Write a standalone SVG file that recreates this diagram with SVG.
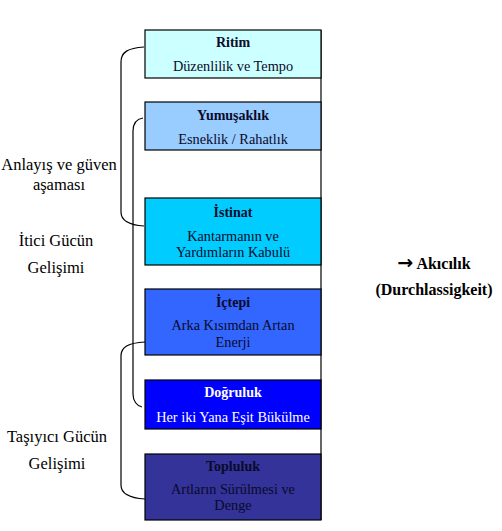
<svg xmlns="http://www.w3.org/2000/svg" width="502" height="531" viewBox="0 0 502 531">
<style>
  .t { font-family: "Liberation Serif", "Times New Roman", serif; font-size: 14px; font-weight: bold; text-anchor: middle; fill: #0a0a2a; }
  .s { font-family: "Liberation Serif", "Times New Roman", serif; font-size: 14.3px; text-anchor: middle; fill: #0a0a2a; }
  .w { fill: #ffffff; }
  .lab { font-family: "Liberation Serif", "Times New Roman", serif; font-size: 16.5px; text-anchor: middle; fill: #000; }
  .res { font-family: "Liberation Serif", "Times New Roman", serif; font-size: 16px; font-weight: bold; text-anchor: middle; fill: #000; }
  .arr { font-family: "DejaVu Sans", sans-serif; font-weight: bold; font-size: 19px; }
  .box { stroke: #000; stroke-width: 1.2; }
  .br { fill: none; stroke: #000; stroke-width: 1.2; }
</style>
<rect width="502" height="531" fill="#ffffff"/>
<line x1="321" y1="30" x2="321" y2="520" stroke="#000" stroke-width="1.2"/>
<g id="ritim">
  <rect class="box" x="145" y="30" width="176" height="48" fill="#ccffff"/>
  <text class="t" x="233" y="47">Ritim</text>
  <text class="s" x="233" y="71">Düzenlilik ve Tempo</text>
</g>
<g id="yumusaklik">
  <rect class="box" x="145" y="102" width="176" height="48" fill="#99ccff"/>
  <text class="t" x="233" y="120">Yumuşaklık</text>
  <text class="s" x="233" y="144">Esneklik / Rahatlık</text>
</g>
<g id="istinat">
  <rect class="box" x="145" y="198" width="176" height="67" fill="#00ccff"/>
  <text class="t" x="233" y="217">İstinat</text>
  <text class="s" x="233" y="241">Kantarmanın ve</text>
  <text class="s" x="233" y="257">Yardımların Kabulü</text>
</g>
<g id="ictepi">
  <rect class="box" x="145" y="289" width="176" height="66" fill="#3366ff"/>
  <text class="t" x="233" y="307">İçtepi</text>
  <text class="s" x="233" y="330">Arka Kısımdan Artan</text>
  <text class="s" x="233" y="347">Enerji</text>
</g>
<g id="dogruluk">
  <rect class="box" x="145" y="380" width="176" height="49" fill="#0000ff"/>
  <text class="t w" x="233" y="397">Doğruluk</text>
  <text class="s w" x="233" y="422">Her iki Yana Eşit Bükülme</text>
</g>
<g id="topluluk">
  <rect class="box" x="145" y="454" width="176" height="66" fill="#333399"/>
  <text class="t" x="233" y="471">Topluluk</text>
  <text class="s" x="233" y="494">Artların Sürülmesi ve</text>
  <text class="s" x="233" y="510">Denge</text>
</g>
<g id="connectors">
  <path class="br" d="M144,47 C128,48 121,52 121,62 L121,212 C121,220 128,225 144,226"/>
  <path class="br" d="M143,118 C137,119 133,123 133,131 L133,394 C133,401 137,406 142,407"/>
  <path class="br" d="M145,342 C128,343 121,347 121,356 L121,485 C121,493 128,498 145,499"/>
</g>
<g id="labels">
  <text class="lab" x="59" y="170">Anlayış ve güven</text>
  <text class="lab" x="59" y="190">aşaması</text>
  <text class="lab" x="56" y="246">İtici Gücün</text>
  <text class="lab" x="56" y="273">Gelişimi</text>
  <text class="lab" x="57" y="442">Taşıyıcı Gücün</text>
  <text class="lab" x="57" y="469">Gelişimi</text>
</g>
<g id="result">
  <text class="res" x="434" y="269"><tspan class="arr">→</tspan> Akıcılık</text>
  <text class="res" x="434" y="295">(Durchlassigkeit)</text>
</g>
</svg>
